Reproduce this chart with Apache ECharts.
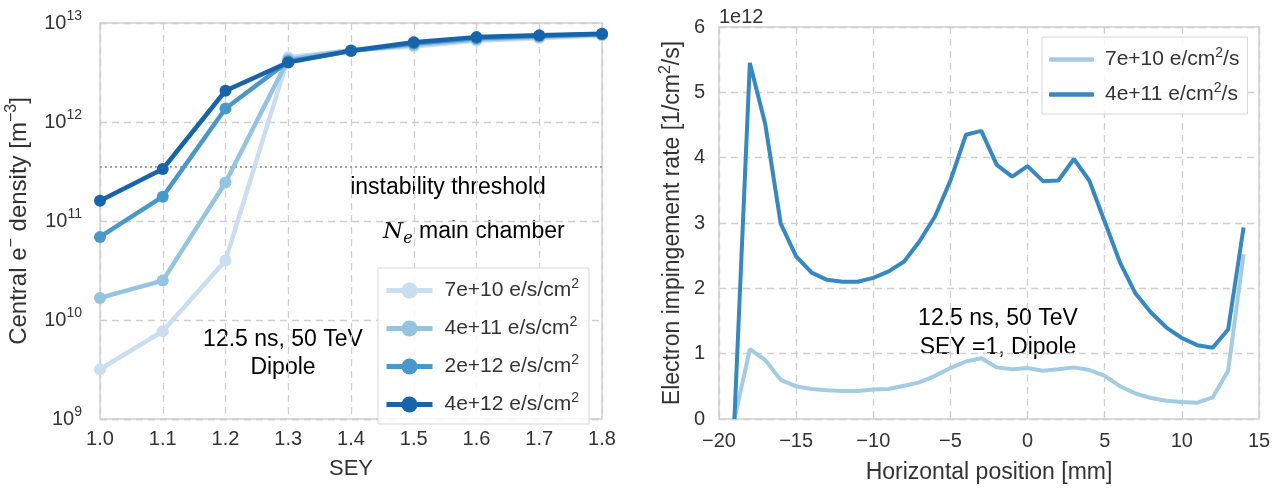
<!DOCTYPE html>
<html>
<head>
<meta charset="utf-8">
<script src="https://cdn.jsdelivr.net/npm/echarts@6/dist/echarts.min.js"></script>
<style>
html, body { margin: 0; padding: 0; background: #fff; }
#main { width: 1281px; height: 489px; }
</style>
</head>
<body>
<div id="main"></div>
<script>
// left panel: central density vs SEY
const sey = [1.0, 1.1, 1.2, 1.3, 1.4, 1.5, 1.6, 1.7, 1.8]
const densityNames = ['7e+10 e/s/cm²', '4e+11 e/s/cm²', '2e+12 e/s/cm²', '4e+12 e/s/cm²']
const density7e10 = [3.18e9, 7.7e9, 3.98e10, 4.5e12, 5.3e12, 5.8e12, 6.6e12, 7.0e12, 7.5e12]
const density4e11 = [1.67e10, 2.5e10, 2.45e11, 4.3e12, 5.3e12, 6.0e12, 6.8e12, 7.2e12, 7.6e12]
const density2e12 = [6.9e10, 1.76e11, 1.37e12, 4.1e12, 5.2e12, 6.2e12, 7.0e12, 7.4e12, 7.7e12]
const density4e12 = [1.6e11, 3.35e11, 2.07e12, 4.0e12, 5.25e12, 6.4e12, 7.2e12, 7.5e12, 7.8e12]
const threshold = 3.56e11

// right panel: impingement rate vs horizontal position (units of 1e12)
const position = [-19, -18, -17, -16, -15, -14, -13, -12, -11, -10, -9, -8, -7, -6, -5, -4, -3,
    -2, -1, 0, 1, 2, 3, 4, 5, 6, 7, 8, 9, 10, 11, 12, 13, 14]
const rateNames = ['7e+10 e/cm²/s', '4e+11 e/cm²/s']
const rateLow = [0, 1.07, 0.90, 0.60, 0.50, 0.46, 0.44, 0.43, 0.43, 0.45, 0.46, 0.51, 0.56, 0.66, 0.78, 0.88, 0.93,
    0.79, 0.76, 0.78, 0.74, 0.76, 0.79, 0.75, 0.66, 0.50, 0.39, 0.32, 0.28, 0.26, 0.25, 0.33, 0.74, 2.52]
const rateHigh = [0, 5.45, 4.51, 2.99, 2.49, 2.24, 2.13, 2.10, 2.10, 2.16, 2.26, 2.41, 2.72, 3.10, 3.65, 4.35, 4.41,
    3.89, 3.71, 3.87, 3.64, 3.65, 3.98, 3.65, 3.02, 2.39, 1.92, 1.63, 1.40, 1.24, 1.13, 1.09, 1.37, 2.93]

const leftColors = ['#cadef0', '#94c4df', '#4a98c9', '#1764ab']
const rightColors = ['#a3cce3', '#3787c0']
const font = 'Liberation Sans, Arial, sans-serif'
const gridColor = '#cfcfcf'

const sup = (size) => ({ fontSize: size, fontFamily: font, color: '#333', padding: [0, 0, Math.round(size * 0.9), 0] })
const txt = (size) => ({ fontSize: size, fontFamily: font, color: '#333' })
const withSup = s => s.split('²').map(p => p ? '{t|' + p + '}' : '').join('{s|2}')

let chart = echarts.init(document.getElementById('main'), null, { renderer: 'canvas' })

let zip = (xs, ys) => xs.map((x, i) => [x, ys[i]])
let densities = [density7e10, density4e11, density2e12, density4e12]
let rates = [rateLow, rateHigh]

let series = []
for (let i = 0; i < densities.length; i++) {
    series.push({
        name: densityNames[i],
        type: 'line',
        xAxisIndex: 0,
        yAxisIndex: 0,
        data: zip(sey, densities[i]),
        symbol: 'circle',
        symbolSize: 12,
        lineStyle: { width: 4.5, color: leftColors[i] },
        itemStyle: { color: leftColors[i] },
        z: 3 + i,
        animation: false,
    })
}
series[0].markLine = {
    silent: true,
    symbol: 'none',
    label: { show: false },
    lineStyle: { type: [2, 3], color: '#888', width: 1.5 },
    data: [{ yAxis: threshold }],
    z: 2,
}
for (let i = 0; i < rates.length; i++) {
    series.push({
        name: rateNames[i],
        type: 'line',
        xAxisIndex: 1,
        yAxisIndex: 1,
        data: zip(position, rates[i]),
        symbol: 'none',
        lineStyle: { width: 4, color: rightColors[i] },
        itemStyle: { color: rightColors[i] },
        z: 3 + i,
        animation: false,
    })
}

const axisCommon = {
    axisLine: { show: false },
    axisTick: { show: false },
    splitLine: { show: true, lineStyle: { color: gridColor, type: [7, 5], width: 1.3 } },
    nameTextStyle: { fontSize: 23, fontFamily: font, color: '#333', rich: { t: txt(23), s: sup(16) } },
}

chart.setOption({
    backgroundColor: '#fff',
    textStyle: { fontFamily: font },
    grid: [
        { left: 100, top: 23, width: 502, height: 396, show: true, borderColor: gridColor, borderWidth: 1.5 },
        { left: 719, top: 27, width: 540, height: 395, show: true, borderColor: gridColor, borderWidth: 1.5 },
    ],
    xAxis: [
        {
            ...axisCommon,
            gridIndex: 0,
            type: 'value',
            min: 1.0,
            max: 1.8,
            interval: 0.1,
            name: 'SEY',
            nameLocation: 'middle',
            nameGap: 39,
            nameTextStyle: { fontSize: 22, fontFamily: font, color: '#333' },
            axisLabel: { fontSize: 20, color: '#333', margin: 10, formatter: v => v.toFixed(1) },
        },
        {
            ...axisCommon,
            gridIndex: 1,
            type: 'value',
            min: -20,
            max: 15,
            interval: 5,
            name: 'Horizontal position [mm]',
            nameLocation: 'middle',
            nameGap: 42,
            nameTextStyle: { fontSize: 23, fontFamily: font, color: '#333' },
            axisLabel: { fontSize: 20, color: '#333', margin: 12, formatter: v => v < 0 ? '\u2212' + (-v) : String(v) },
        },
    ],
    yAxis: [
        {
            ...axisCommon,
            gridIndex: 0,
            type: 'log',
            logBase: 10,
            min: 1e9,
            max: 1e13,
            name: '{t|Central e}{s|\u2212}{t| density [m}{s|\u22123}{t|]}',
            nameLocation: 'middle',
            nameGap: 66,
            nameTextStyle: { color: '#333', rich: { t: txt(24), s: sup(16) } },
            axisLabel: {
                margin: 18,
                formatter: v => '{t|10}{s|' + Math.round(Math.log10(v)) + '}',
                rich: { t: txt(20), s: sup(14) },
            },
        },
        {
            ...axisCommon,
            gridIndex: 1,
            type: 'value',
            min: 0,
            max: 6,
            interval: 1,
            name: '{t|Electron impingement rate [1/cm}{s|2}{t|/s]}',
            nameLocation: 'middle',
            nameGap: 31,
            axisLabel: { fontSize: 20, color: '#333', margin: 14 },
        },
    ],
    legend: [
        {
            data: densityNames,
            left: 378,
            top: 268,
            orient: 'vertical',
            padding: [9, 10, 9, 6],
            itemGap: 14,
            itemWidth: 46,
            itemHeight: 20,
            lineStyle: { width: 5 },
            backgroundColor: 'rgba(255,255,255,0.85)',
            borderColor: '#d6d6d6',
            borderWidth: 1,
            formatter: withSup,
            textStyle: { rich: { t: txt(21), s: sup(14) }, padding: [0, 0, 0, 7] },
        },
        {
            data: rateNames,
            left: 1042,
            top: 37,
            orient: 'vertical',
            padding: [9, 8, 9, 7],
            itemGap: 11,
            itemWidth: 45,
            itemHeight: 4.5,
            icon: 'roundRect',
            backgroundColor: 'rgba(255,255,255,0.85)',
            borderColor: '#d6d6d6',
            borderWidth: 1,
            formatter: withSup,
            textStyle: { rich: { t: txt(21), s: sup(14) }, padding: [0, 0, 0, 6] },
        },
    ],
    graphic: [
        {
            type: 'text', x: 448, y: 188,
            style: { text: 'instability threshold', font: '23px ' + font, fill: '#000', align: 'center', verticalAlign: 'middle' },
        },
        {
            type: 'text', x: 383, y: 232,
            style: {
                text: '{n|N}{e|e}{m| main chamber}',
                verticalAlign: 'middle',
                rich: {
                    n: { fontSize: 23, fontFamily: 'DejaVu Serif', fontStyle: 'italic', fill: '#000' },
                    e: { fontSize: 16, fontFamily: 'DejaVu Serif', fontStyle: 'italic', fill: '#000', padding: [14, 0, 0, 0] },
                    m: { fontSize: 23, fontFamily: font, fill: '#000' },
                },
            },
        },
        {
            type: 'text', x: 283, y: 354,
            style: { text: '12.5 ns, 50 TeV\nDipole', font: '23px ' + font, fill: '#000', align: 'center', verticalAlign: 'middle', lineHeight: 28 },
        },
        {
            type: 'text', x: 998, y: 333,
            style: { text: '12.5 ns, 50 TeV\nSEY =1, Dipole', font: '23px ' + font, fill: '#000', align: 'center', verticalAlign: 'middle', lineHeight: 29 },
        },
        {
            type: 'text', x: 719, y: 17,
            style: { text: '1e12', font: '20px ' + font, fill: '#333', verticalAlign: 'middle' },
        },
    ],
    series: series,
})
</script>
</body>
</html>
